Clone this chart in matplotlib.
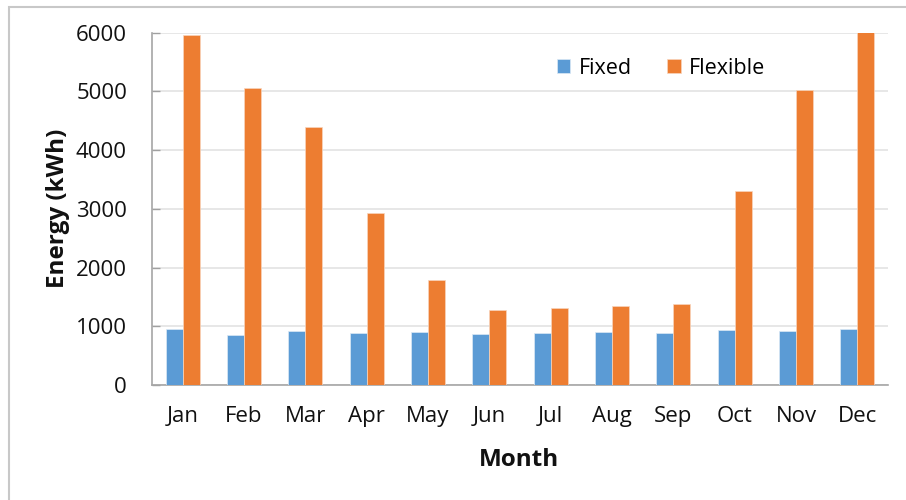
import matplotlib.pyplot as plt
import matplotlib.patches as mpatches
import numpy as np

# Monthly energy use for the two cases (kWh)
months = ['Jan', 'Feb', 'Mar', 'Apr', 'May', 'Jun', 'Jul', 'Aug', 'Sep', 'Oct', 'Nov', 'Dec']
fixed = [953, 851, 919, 885, 902, 868, 885, 902, 885, 936, 919, 953]
flexible = [5957, 5055, 4397, 2920, 1790, 1277, 1305, 1340, 1374, 3300, 5017, 6010]
y_ticks = [0, 1000, 2000, 3000, 4000, 5000, 6000]

plt.rcParams['font.family'] = ['Open Sans', 'DejaVu Sans']

fig = plt.figure(figsize=(9.06, 5.0), dpi=100)
ax = fig.add_axes([152 / 906, 1 - 385 / 500, (888 - 152) / 906, (385 - 32.5) / 500])

x = np.arange(len(months))
w = 0.275
ax.bar(x - w / 2, fixed, w, color='#5B9BD5', edgecolor='#DCE9F5', linewidth=0.5, label='Fixed', zorder=3)
ax.bar(x + w / 2, flexible, w, color='#ED7D31', edgecolor='#F8D5BD', linewidth=0.5, label='Flexible', zorder=3)

ax.set_xlim(-0.5, len(months) - 0.5)
ax.set_ylim(0, 6000)
ax.set_xticks(x)
ax.set_xticklabels(months)
ax.set_yticks(y_ticks)
ax.tick_params(axis='x', length=0, labelsize=16, pad=15, colors='#111111')
ax.tick_params(axis='y', direction='in', length=6, width=1, color='#A0A0A0',
               labelsize=16, pad=18, labelcolor='#111111')

ax.grid(axis='y', color='#E3E3E3', linewidth=1.2, zorder=0)
for side in ['top', 'right']:
    ax.spines[side].set_visible(False)
for side in ['left', 'bottom']:
    ax.spines[side].set_color('#A6A6A6')
    ax.spines[side].set_linewidth(1.2)

fig.text(58 / 906, 1 - 208 / 500, 'Energy (kWh)', rotation=90, ha='center', va='center',
         fontsize=17.5, fontweight='bold', color='#111111')
fig.text(519 / 906, 1 - 460 / 500, 'Month', ha='center', va='center',
         fontsize=17.5, fontweight='bold', color='#111111')

fig.legend(loc='center', bbox_to_anchor=(661 / 906, 1 - 68 / 500), ncol=2, frameon=False,
           fontsize=15.5, handlelength=0.62, handleheight=0.62, handletextpad=0.4,
           columnspacing=1.65)

# light grey frame around the chart area
fig.patches.append(mpatches.Rectangle((9 / 906, -0.1), 1.2, 1.1 - 7 / 500, transform=fig.transFigure,
                                      fill=False, edgecolor='#C8C8C8', linewidth=1.5))

fig.savefig('out.png', dpi=100)
